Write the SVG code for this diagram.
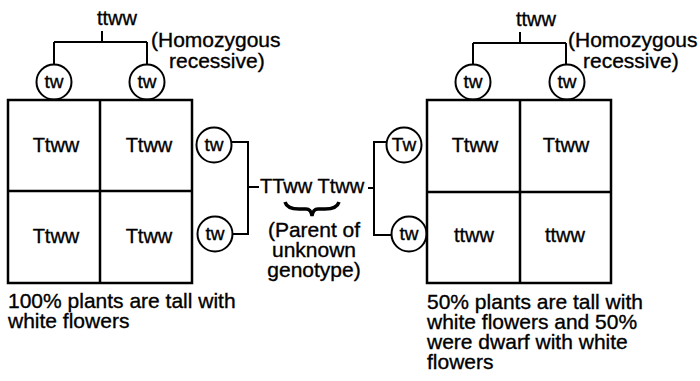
<svg xmlns="http://www.w3.org/2000/svg" width="700" height="381" viewBox="0 0 700 381">
<style>
text{font-family:"Liberation Sans",Arial,Helvetica,sans-serif;font-size:20px;fill:#000;stroke:#000;stroke-width:0.35}
.c{text-anchor:middle}
.l{font-size:21px}
.g{fill:#fff;stroke:#000;stroke-width:2}
.gt{font-size:19px;text-anchor:middle}
.ln{fill:none;stroke:#000;stroke-width:2}
.grid{fill:#fff;stroke:#000;stroke-width:2.5}
</style>
<rect width="700" height="381" fill="#fff"/>
<g id="connectors" class="ln">
<path d="M102,31V42M54,42H147M54,42V65M147,42V65"/>
<path d="M520,32V43M473,43H566M473,43V65M566,43V65"/>
<path d="M231,142H248V234H233M248,187H259"/>
<path d="M368,188H374M387,142H374V235H392"/>
<path d="M285,202Q287,209 299,209L306,209Q311,209 312,216Q313,209 318,209L325,209Q337,209 339,202" stroke-width="3.5"/>
</g>
<g id="left-parent">
<text x="97" y="25">ttww</text>
<text class="l" x="151" y="47">(Homozygous</text>
<text class="l" x="169" y="68">recessive)</text>
</g>
<g id="left-gamete-1"><circle class="g" cx="54" cy="82" r="17.5"/><text class="gt" x="54" y="88">tw</text></g>
<g id="left-gamete-2"><circle class="g" cx="147" cy="82" r="17.5"/><text class="gt" x="147" y="88">tw</text></g>
<g id="left-grid">
<rect class="grid" x="8" y="100" width="184" height="183"/>
<path class="grid" d="M100,100V283M8,191H192"/>
<text class="c" x="56" y="152">Ttww</text>
<text class="c" x="149" y="152">Ttww</text>
<text class="c" x="56" y="243">Ttww</text>
<text class="c" x="149" y="243">Ttww</text>
</g>
<g id="left-gamete-3"><circle class="g" cx="214" cy="145" r="17.5"/><text class="gt" x="214" y="151">tw</text></g>
<g id="left-gamete-4"><circle class="g" cx="215" cy="234" r="17.5"/><text class="gt" x="215" y="240">tw</text></g>
<g id="left-result">
<text class="l" x="8" y="308">100% plants are tall with</text>
<text class="l" x="8" y="328">white flowers</text>
</g>
<g id="unknown-parent">
<text x="260" y="193" font-size="19">TTww Ttww</text>
<text class="c l" x="314" y="237">(Parent of</text>
<text class="c l" x="314" y="257">unknown</text>
<text class="c l" x="314" y="277">genotype)</text>
</g>
<g id="right-gamete-3"><circle class="g" cx="404" cy="145" r="17.5"/><text class="gt" x="404" y="151">Tw</text></g>
<g id="right-gamete-4"><circle class="g" cx="409" cy="234" r="17.5"/><text class="gt" x="409" y="240">tw</text></g>
<g id="right-parent">
<text x="516" y="26">ttww</text>
<text class="l" x="568" y="47">(Homozygous</text>
<text class="l" x="583" y="68">recessive)</text>
</g>
<g id="right-gamete-1"><circle class="g" cx="473" cy="82" r="17.5"/><text class="gt" x="473" y="88">tw</text></g>
<g id="right-gamete-2"><circle class="g" cx="567" cy="82" r="17.5"/><text class="gt" x="567" y="88">tw</text></g>
<g id="right-grid">
<rect class="grid" x="427" y="100" width="184" height="183"/>
<path class="grid" d="M520,100V283M427,192H611"/>
<text class="c" x="475" y="152">Ttww</text>
<text class="c" x="566" y="152">Ttww</text>
<text class="c" x="474" y="242">ttww</text>
<text class="c" x="565" y="242">ttww</text>
</g>
<g id="right-result">
<text class="l" x="427" y="309">50% plants are tall with</text>
<text class="l" x="427" y="329">white flowers and 50%</text>
<text class="l" x="427" y="349">were dwarf with white</text>
<text class="l" x="427" y="369">flowers</text>
</g>
</svg>
